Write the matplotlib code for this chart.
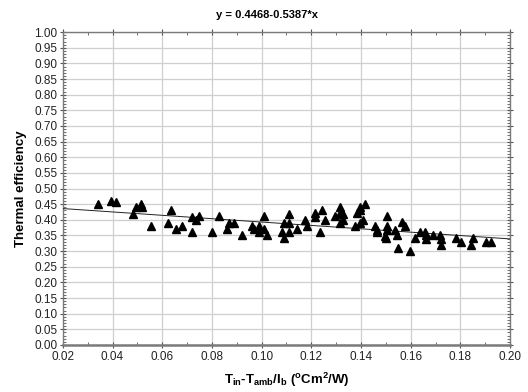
import numpy as np
import matplotlib
matplotlib.use("Agg")
import matplotlib.pyplot as plt
from matplotlib.ticker import MultipleLocator, FormatStrFormatter

plt.rcParams['font.family'] = ['Liberation Sans', 'DejaVu Sans']
plt.rcParams['mathtext.fontset'] = 'custom'
plt.rcParams['mathtext.rm'] = 'Liberation Sans:bold'
plt.rcParams['mathtext.it'] = 'Liberation Sans:bold'
plt.rcParams['mathtext.bf'] = 'Liberation Sans:bold'

# measured points (x = (Tin-Tamb)/Ib, y = thermal efficiency)
x_data = [0.0342, 0.0392, 0.0413, 0.0483, 0.0494, 0.0514, 0.0517, 0.0554, 0.0635, 0.0625,
          0.0657, 0.0678, 0.0718, 0.0748, 0.0738, 0.0718, 0.0799, 0.0828, 0.0870, 0.0890,
          0.0859, 0.0920, 0.0960, 0.0970, 0.0991, 0.0990, 0.1011, 0.1020, 0.1011, 0.1091,
          0.1112, 0.1112, 0.1082, 0.1112, 0.1091, 0.1144, 0.1175, 0.1184, 0.1215, 0.1215,
          0.1235, 0.1245, 0.1255, 0.1295, 0.1315, 0.1315, 0.1326, 0.1315, 0.1326, 0.1376,
          0.1386, 0.1396, 0.1395, 0.1416, 0.1396, 0.1407, 0.1456, 0.1464, 0.1466, 0.1506,
          0.1506, 0.1504, 0.1497, 0.1501, 0.1537, 0.1547, 0.1548, 0.1567, 0.1577, 0.1599,
          0.1617, 0.1639, 0.1658, 0.1660, 0.1660, 0.1691, 0.1718, 0.1721, 0.1721, 0.1781,
          0.1802, 0.1852, 0.1843, 0.1902, 0.1923]
y_data = [0.452, 0.461, 0.456, 0.420, 0.441, 0.452, 0.441, 0.380, 0.431, 0.390,
          0.370, 0.380, 0.410, 0.412, 0.401, 0.361, 0.361, 0.412, 0.390, 0.390,
          0.370, 0.350, 0.380, 0.370, 0.380, 0.361, 0.370, 0.350, 0.412, 0.390,
          0.420, 0.390, 0.361, 0.361, 0.341, 0.370, 0.401, 0.380, 0.421, 0.410,
          0.361, 0.431, 0.401, 0.411, 0.441, 0.421, 0.420, 0.390, 0.401, 0.380,
          0.421, 0.432, 0.441, 0.452, 0.390, 0.400, 0.380, 0.369, 0.361, 0.411,
          0.380, 0.369, 0.348, 0.341, 0.369, 0.351, 0.309, 0.393, 0.380, 0.300,
          0.341, 0.360, 0.360, 0.350, 0.338, 0.350, 0.350, 0.338, 0.319, 0.341,
          0.330, 0.341, 0.319, 0.330, 0.330]

# linear fit shown in the title
intercept = 0.4468
slope = -0.5387

fig = plt.figure(figsize=(5.28, 3.92), dpi=100)
ax = fig.add_axes([0.119, 0.120, 0.847, 0.798])

xs = np.array([0.02, 0.20])
ax.plot(xs, intercept + slope * xs, color='#222222', lw=0.7, zorder=3)
ax.plot(x_data, y_data, linestyle='none', marker='^', ms=5.2, color='black', zorder=4)

ax.set_xlim(0.02, 0.20)
ax.set_ylim(0.0, 1.0)
ax.xaxis.set_major_locator(MultipleLocator(0.02))
ax.xaxis.set_minor_locator(MultipleLocator(0.01))
ax.yaxis.set_major_locator(MultipleLocator(0.05))
ax.yaxis.set_minor_locator(MultipleLocator(0.01))
ax.xaxis.set_major_formatter(FormatStrFormatter('%.2f'))
ax.yaxis.set_major_formatter(FormatStrFormatter('%.2f'))

ax.grid(True, which='major', color='#cfcfcf', lw=0.9, zorder=0)
ax.set_axisbelow(True)

for side in ['left', 'right', 'top', 'bottom']:
    ax.spines[side].set_color('#7a7a7a')
    ax.spines[side].set_linewidth(1.0)
ax.spines['bottom'].set_linewidth(1.8)

ax.tick_params(which='major', direction='inout', length=4, width=0.8, color='#555555',
               labelsize=8.5, top=True, right=True, labelcolor='#222222', pad=2)
ax.tick_params(which='minor', direction='in', length=2, width=0.6, color='#555555',
               top=True, right=True)

# title sits a bit left of the axes centre in the original
fig.text(267 / 528, 1 - 15 / 392, 'y = 0.4468-0.5387*x', fontsize=8, fontweight='bold',
         ha='center', va='center')
ax.set_ylabel('Thermal efficiency', fontsize=9.5, fontweight='bold', labelpad=5)
ax.set_xlabel(r'T$_{in}$-T$_{amb}$/I$_{b}$ ($^{o}$Cm$^{2}$/W)', fontsize=9.5,
              fontweight='bold', labelpad=6)

plt.savefig('out.png', dpi=100)
